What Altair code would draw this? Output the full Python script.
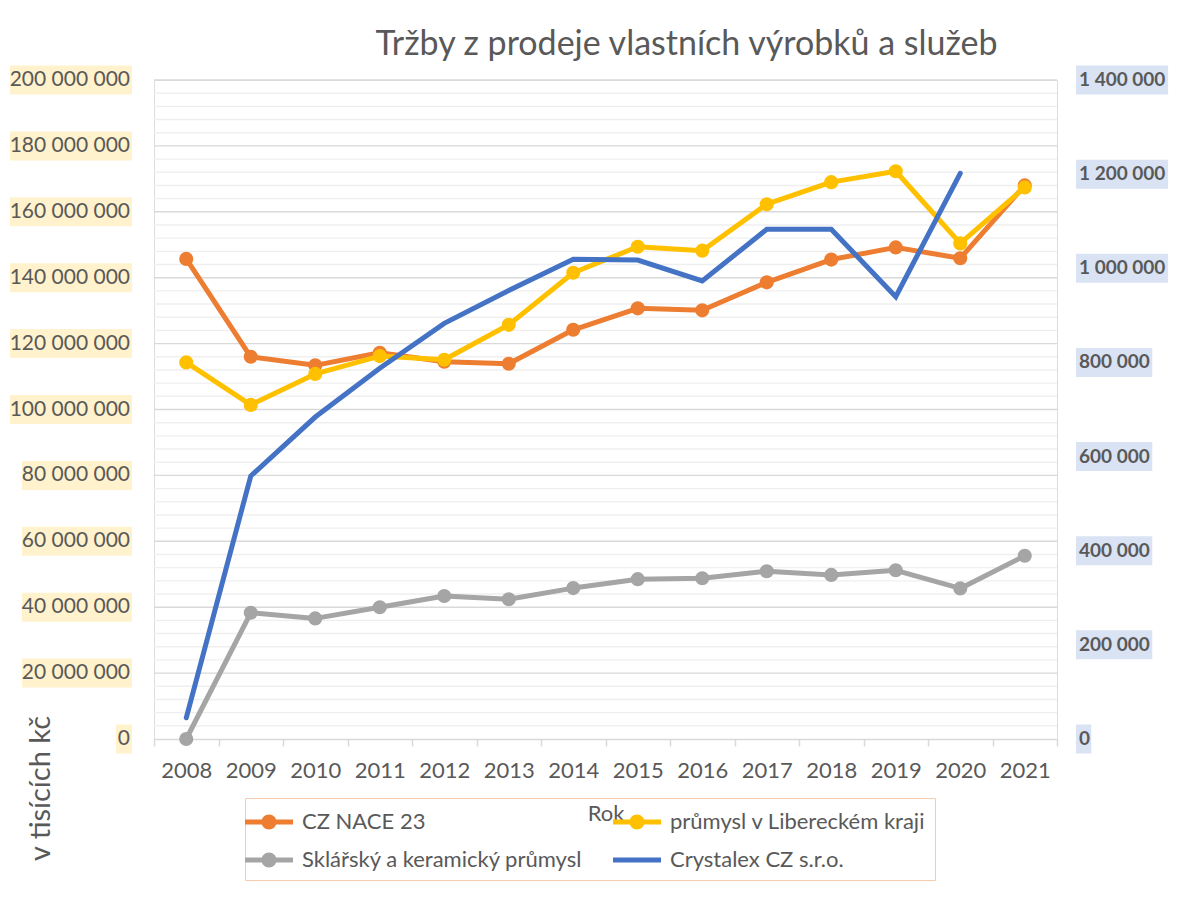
import altair as alt
import pandas as pd

# ---------------- data ----------------
years = ["2008", "2009", "2010", "2011", "2012", "2013", "2014",
         "2015", "2016", "2017", "2018", "2019", "2020", "2021"]

cz_nace_23 = [145_700_000, 116_000_000, 113_400_000, 117_200_000, 114_500_000,
              113_900_000, 124_200_000, 130_700_000, 130_100_000, 138_600_000,
              145_500_000, 149_200_000, 145_900_000, 168_000_000]
prumysl_liberec = [114_300_000, 101_400_000, 110_800_000, 116_200_000, 115_100_000,
                   125_700_000, 141_500_000, 149_400_000, 148_200_000, 162_300_000,
                   169_000_000, 172_300_000, 150_400_000, 167_400_000]
sklarsky = [0, 38_300_000, 36_600_000, 40_000_000, 43_400_000, 42_400_000,
            45_800_000, 48_500_000, 48_800_000, 50_900_000, 49_800_000,
            51_200_000, 45_700_000, 55_600_000]
crystalex = [45_000, 558_700, 684_000, 787_500, 883_000, 953_000, 1_019_000,
             1_017_600, 973_000, 1_082_800, 1_082_800, 939_600, 1_201_800, None]

left_ticks = [0, 20_000_000, 40_000_000, 60_000_000, 80_000_000, 100_000_000,
              120_000_000, 140_000_000, 160_000_000, 180_000_000, 200_000_000]
left_labels = ["0", "20 000 000", "40 000 000", "60 000 000", "80 000 000",
               "100 000 000", "120 000 000", "140 000 000", "160 000 000",
               "180 000 000", "200 000 000"]
right_ticks = [0, 200_000, 400_000, 600_000, 800_000, 1_000_000, 1_200_000, 1_400_000]
right_labels = ["0", "200 000", "400 000", "600 000", "800 000",
                "1 000 000", "1 200 000", "1 400 000"]
grid_ticks = list(range(4_000_000, 200_000_001, 4_000_000))

series_names = ["CZ NACE 23", "průmysl v Libereckém kraji",
                "Sklářský a keramický průmysl", "Crystalex CZ s.r.o."]
series_colors = ["#ED7D31", "#FFC000", "#A5A5A5", "#4472C4"]

# ---------------- styling ----------------
FONT = "Lato"
TXT = "#595959"
W, H = 903, 659
LEFT_DOM = [0, 200_000_000]
RIGHT_DOM = [0, 1_400_000]

LINE_CIRCLE = ("M-1.6,-0.17L-0.45,-0.17L-0.45,0.17L-1.6,0.17Z "
               "M0.45,-0.17L1.6,-0.17L1.6,0.17L0.45,0.17Z "
               "M0.5,0A0.5,0.5 0 1 1 -0.5,0A0.5,0.5 0 1 1 0.5,0Z")
LINE_ONLY = "M-1.6,-0.17L1.6,-0.17L1.6,0.17L-1.6,0.17Z"
series_shapes = [LINE_CIRCLE, LINE_CIRCLE, LINE_CIRCLE, LINE_ONLY]

x_axis = alt.Axis(title="Rok", labelAngle=0, labelFont=FONT, labelFontSize=22,
                  labelColor=TXT, labelPadding=14, tickBand="extent", ticks=True,
                  tickColor="#D9D9D9", tickSize=7, tickWidth=1.5, domain=True,
                  domainColor="#D9D9D9", domainWidth=1.5, grid=False,
                  titleFont=FONT, titleFontSize=22, titleFontWeight="normal",
                  titleColor=TXT, titleY=74, titleBaseline="middle")
x_enc = alt.X("year:N", sort=years,
              scale=alt.Scale(type="band", domain=years, paddingInner=0, paddingOuter=0),
              axis=x_axis)

left_axis = alt.Axis(labels=False, ticks=False, domain=False, grid=False,
                     title="v tisících kč", titleAngle=270, titleX=-114, titleY=708,
                     titleAlign="center", titleBaseline="middle", titleFont=FONT,
                     titleFontSize=29, titleFontWeight="normal", titleColor=TXT)


def y_left(field, axis=None):
    return alt.Y(field, scale=alt.Scale(domain=LEFT_DOM, nice=False, zero=True), axis=axis)


def y_right(field):
    return alt.Y(field, scale=alt.Scale(domain=RIGHT_DOM, nice=False, zero=True), axis=None)


def frame(values):
    return pd.DataFrame({"year": years, "value": values}).dropna()


layers = []

# horizontal gridlines (major every 20 M, minor every 4 M)
grid_df = pd.DataFrame({"v": grid_ticks})
layers.append(alt.Chart(grid_df).mark_rule(strokeWidth=1.4).encode(
    y=y_left("v:Q", left_axis),
    color=alt.condition("datum.v % 20000000 === 0",
                        alt.value("#D9D9D9"), alt.value("#EFEFEF"))))

# gray, orange and yellow series on left axis
for vals, col in [(sklarsky, series_colors[2]),
                  (cz_nace_23, series_colors[0]),
                  (prumysl_liberec, series_colors[1])]:
    base = alt.Chart(frame(vals))
    layers.append(base.mark_line(color=col, strokeWidth=5, strokeCap="round",
                                 strokeJoin="round")
                  .encode(x=x_enc, y=y_left("value:Q")))
    layers.append(base.mark_circle(color=col, size=200, opacity=1)
                  .encode(x=x_enc, y=y_left("value:Q")))

# Crystalex on right axis
layers.append(alt.Chart(frame(crystalex))
              .mark_line(color=series_colors[3], strokeWidth=5, strokeCap="round")
              .encode(x=x_enc, y=y_right("value:Q")))

# left tick labels with background
width_expr = ("length(replace(datum.label, regexp(' ', 'g'), '')) * 12 + "
              "(length(datum.label) - length(replace(datum.label, regexp(' ', 'g'), ''))) * 5 + 4")
left_df = pd.DataFrame({"v": left_ticks, "label": left_labels})
layers.append(alt.Chart(left_df)
              .transform_calculate(hi="datum.v + 4400000", lo="datum.v - 4400000", w=width_expr)
              .mark_rect(color="#FFF2CC", x=alt.ExprRef(expr="-22 - datum.w"), x2=-22)
              .encode(y=y_left("hi:Q"), y2="lo:Q"))
layers.append(alt.Chart(left_df)
              .mark_text(align="right", baseline="middle", font=FONT, fontSize=21, color=TXT)
              .encode(x=alt.value(-24), y=y_left("v:Q"), text="label:N"))

# right tick labels with background
width_expr_r = ("length(replace(datum.label, regexp(' ', 'g'), '')) * 11.3 + "
                "(length(datum.label) - length(replace(datum.label, regexp(' ', 'g'), ''))) * 4.5 + 4")
right_df = pd.DataFrame({"v": right_ticks, "label": right_labels})
layers.append(alt.Chart(right_df)
              .transform_calculate(hi="datum.v + 30800", lo="datum.v - 30800", w=width_expr_r)
              .mark_rect(color="#DAE3F3", x=922, x2=alt.ExprRef(expr="922 + datum.w"))
              .encode(y=y_right("hi:Q"), y2="lo:Q"))
layers.append(alt.Chart(right_df)
              .mark_text(align="left", baseline="middle", font=FONT, fontSize=19,
                         fontWeight="bold", color=TXT)
              .encode(x=alt.value(925), y=y_right("v:Q"), text="label:N"))

# legend (no visible marks)
leg = alt.Legend(title=None, orient="none", legendX=91, legendY=718,
                 direction="horizontal", columns=2, symbolSize=900,
                 symbolStrokeWidth=0, labelFont=FONT, labelFontSize=22,
                 labelColor=TXT, labelOffset=18, labelLimit=500,
                 strokeColor="#F8CBAD", padding=9, rowPadding=12, columnPadding=30)
legend_df = pd.DataFrame({"series": series_names})
layers.append(alt.Chart(legend_df).transform_filter("false")
              .mark_point(filled=True, opacity=1)
              .encode(color=alt.Color("series:N",
                                      scale=alt.Scale(domain=series_names, range=series_colors),
                                      legend=leg),
                      shape=alt.Shape("series:N",
                                      scale=alt.Scale(domain=series_names, range=series_shapes),
                                      legend=leg)))

chart = (alt.layer(*layers)
         .resolve_scale(y="independent")
         .properties(width=W, height=H,
                     title=alt.TitleParams(text="Tržby z prodeje vlastních výrobků a služeb",
                                           font=FONT, fontSize=34, fontWeight="normal",
                                           color=TXT, anchor="middle", frame="group",
                                           dx=81, offset=4),
                     autosize=alt.AutoSizeParams(type="none"),
                     padding={"left": 146, "top": 72, "right": 112, "bottom": 150})
         .configure_view(strokeWidth=0, stroke="transparent")
         .configure_axis(domain=False, grid=False, ticks=False)
         .configure_axisY(domain=False, ticks=False)
         .configure(background="white", font=FONT))

chart.save("out.html", embed_options={"renderer": "svg", "actions": False})
